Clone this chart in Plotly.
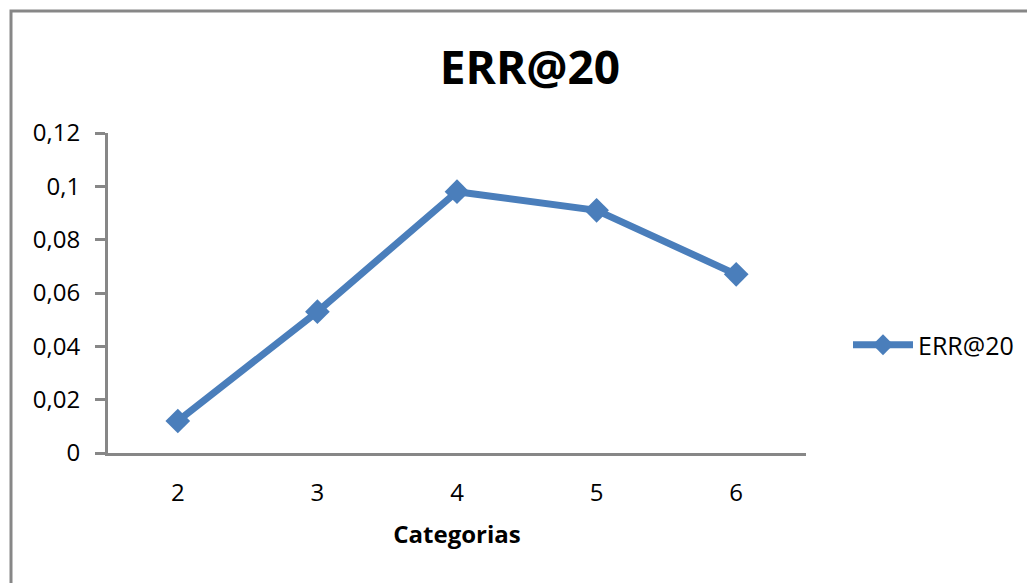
import plotly.graph_objects as go

categories = ["2", "3", "4", "5", "6"]
err20 = [0.012, 0.053, 0.098, 0.091, 0.067]
ytick_vals = [0, 0.02, 0.04, 0.06, 0.08, 0.10, 0.12]
ytick_text = ["0", "0,02", "0,04", "0,06", "0,08", "0,1", "0,12"]

FONT = "Open Sans"
BLUE = "#4A7EBB"
GRAY = "#878787"

fig = go.Figure()
fig.add_trace(go.Scatter(
    x=categories, y=err20, name="ERR@20",
    mode="lines+markers",
    line=dict(color=BLUE, width=7),
    marker=dict(symbol="diamond", size=19, color=BLUE),
))

# page is offset by 8px body margin; coordinates below are figure coords
L, T = 100, 125
W, H = 1035, 583
pw, ph = 698, 320
R = W - L - pw
B = H - T - ph

fig.update_layout(
    width=W, height=H,
    margin=dict(l=L, r=R, t=T, b=B),
    paper_bgcolor="white", plot_bgcolor="white",
    font=dict(family=FONT, color="black", size=24),
    title=dict(text="<b>ERR@20</b>", x=(522 - L) / pw, xref="paper", xanchor="center",
               y=1 - 60 / H, yanchor="middle", font=dict(size=46, family=FONT)),
    showlegend=True,
    legend=dict(x=(840 - L) / pw, y=(T + ph - 337) / ph, xanchor="left", yanchor="middle",
                font=dict(size=25, family=FONT), bgcolor="rgba(0,0,0,0)",
                itemwidth=60),
    xaxis=dict(
        type="category", range=[-0.5, 4.5],
        showline=True, linecolor=GRAY, linewidth=3,
        ticks="", showgrid=False, zeroline=False,
        tickfont=dict(size=24), ticklabelstandoff=16,
        title=dict(text="<b>Categorias</b>", font=dict(size=24), standoff=20),
    ),
    yaxis=dict(
        range=[0, 0.12], tickvals=ytick_vals, ticktext=ytick_text,
        showline=True, linecolor=GRAY, linewidth=3,
        ticks="outside", ticklen=10, tickwidth=3, tickcolor=GRAY,
        showgrid=False, zeroline=False, tickfont=dict(size=24),
        ticklabelstandoff=10,
    ),
    shapes=[dict(
        type="rect", xref="paper", yref="paper",
        x0=(3 - L) / pw, x1=(1100 - L) / pw,
        y0=(T + ph - 640) / ph, y1=(T + ph - 3) / ph,
        line=dict(color=GRAY, width=3), fillcolor="rgba(0,0,0,0)", layer="below",
    )],
)

fig.write_html("out.html")
